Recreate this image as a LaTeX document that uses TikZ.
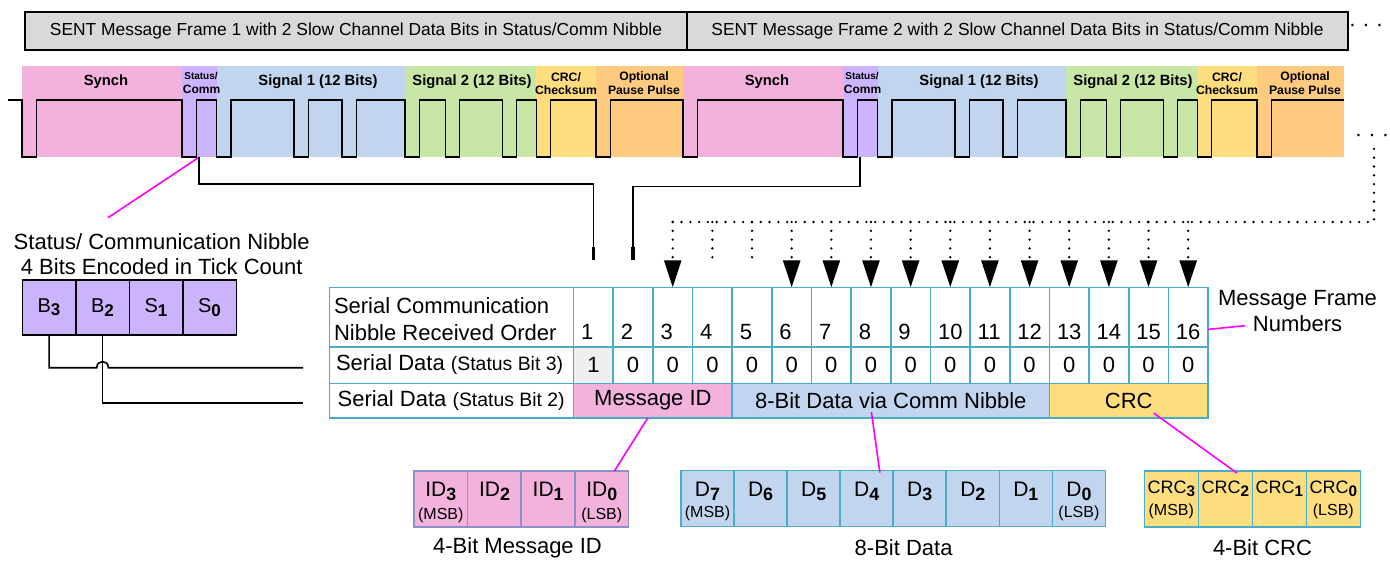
\documentclass[tikz,border=0pt]{standalone}
\usepackage{fontspec}
\setmainfont{Liberation Sans}
\usepackage{graphicx}
\usetikzlibrary{arrows.meta,positioning}

\definecolor{synchpink}{HTML}{F2B2DC}
\definecolor{commpurple}{HTML}{CBB4FB}
\definecolor{sigblue}{HTML}{C2D5EE}
\definecolor{siggreen}{HTML}{C8E6A6}
\definecolor{crcyellow}{HTML}{FEDD7E}
\definecolor{pauseorange}{HTML}{FECA7F}
\definecolor{tabline}{HTML}{4BACC6}
\definecolor{idline}{HTML}{8C8FC8}
\definecolor{hdrgray}{HTML}{D9D9D9}
\definecolor{cellgray}{HTML}{EFEFEF}
\definecolor{callout}{HTML}{FF00FF}

\newcommand\fsz[2]{\fontsize{#1}{#2}\selectfont}
\newcommand\lowbit[1]{\raisebox{-0.35ex}{\scalebox{0.85}{\bfseries #1}}}

\begin{document}
\begin{tikzpicture}[x=0.5pt,y=-0.5pt,
    hdrbox/.style={draw, line width=0.8pt, fill=hdrgray, minimum height=19pt, inner sep=0pt, font=\fsz{8.7}{10}},
    bandtxt/.style={inner sep=0pt, font=\bfseries\fsz{7.4}{8.5}},
    smallband/.style={inner sep=0pt, font=\bfseries\fsz{6.1}{7}},
    wave/.style={line width=0.8pt},
    wire/.style={line width=0.8pt},
    callline/.style={draw=callout, line width=0.8pt},
    dotwire/.style={line width=1.3pt, dash pattern=on 0pt off 4.4pt, line cap=round},
    nibcell/.style={draw, line width=0.8pt, fill=commpurple, outer sep=0pt, inner sep=0pt,
                    minimum width=26.75pt, minimum height=27.35pt, font=\fsz{10}{12}},
    tcell/.style={draw=tabline, line width=0.8pt, outer sep=0pt, inner sep=0pt,
                  minimum width=19.83pt, font=\fsz{11}{13}},
    tabtxt/.style={inner sep=0pt, font=\fsz{11}{13.15}},
    bitcell/.style={draw, line width=0.8pt, outer sep=0pt, inner sep=0pt, minimum height=27.85pt},
    bitmain/.style={inner sep=0pt, font=\fsz{10.5}{12}},
    bitnote/.style={inner sep=0pt, font=\fsz{8}{9}},
    captxt/.style={inner sep=0pt, font=\fsz{11}{13}}]
\useasboundingbox (0,0) rectangle (1390,561);

% frame headers
\node[hdrbox, minimum width=331pt] (hdr1) at (356,31) {SENT Message Frame 1 with 2 Slow Channel Data Bits in Status/Comm Nibble};
\node[hdrbox, minimum width=330.5pt] (hdr2) at (1017.5,31) {SENT Message Frame 2 with 2 Slow Channel Data Bits in Status/Comm Nibble};
\node[font=\fsz{11}{13}, inner sep=0pt] (more1) at (1366,28) {· · ·};

% coloured nibble bands of both frames
\foreach \fr/\n in {22/1,683/2}{
  \foreach \a/\b/\c in {0/160/synchpink,160/194.5/commpurple,194.5/383/sigblue,
                        383/514.3/siggreen,514.3/574/crcyellow,574/661/pauseorange}
    \fill[\c] ({\fr+\a},66) rectangle ({\fr+\b},157.5);
  \node[bandtxt] (synch\n) at ({\fr+84},82) {Synch};
  \node[bandtxt, font=\bfseries\fsz{5}{6}] (stat\n) at ({\fr+179},76) {Status/};
  \node[bandtxt, font=\bfseries\fsz{6}{7}] (comm\n) at ({\fr+179.5},89) {Comm};
  \node[bandtxt] (sigA\n) at ({\fr+296},82) {Signal 1 (12 Bits)};
  \node[bandtxt] (sigB\n) at ({\fr+450},82) {Signal 2 (12 Bits)};
  \node[smallband] (crcA\n) at ({\fr+544},77) {CRC/};
  \node[smallband] (crcB\n) at ({\fr+544},90) {Checksum};
  \node[smallband] (pauseA\n) at ({\fr+622},77) {Optional};
  \node[smallband] (pauseB\n) at ({\fr+622},90) {Pause Pulse};
}

% pulse train
\draw[wave] (8,100)
  foreach \fr in {22,683}{
    foreach \e in {0,160,194.5,272,320,383,423.3,480.3,514.3,574}{
      -- ({\fr+\e},100) -- ++(0,57.3) -- ++(14.3,0) -- ++(0,-57.3)
    }
  } -- (1344,100);
\coordinate (st1) at (199,157.3);
\coordinate (st2) at (860,157.3);

% status / comm nibble
\node[align=center, inner sep=0pt, font=\fsz{11}{12.85}] (sntitle) at (161.7,254) {Status/ Communication Nibble\\4 Bits Encoded in Tick Count};
\coordinate (sntip) at (108,217.7);
\draw[callline] (st1) -- (sntip);
\node[nibcell] (nb3) at (49.05,307.35) {B\lowbit{3}};
\node[nibcell, right=0pt of nb3] (nb2) {B\lowbit{2}};
\node[nibcell, right=0pt of nb2] (ns1) {S\lowbit{1}};
\node[nibcell, right=0pt of ns1] (ns0) {S\lowbit{0}};

% table
\node[tcell, minimum width=122pt, minimum height=29.7pt] (ordlab) at (451.6,317) {};
\node[tabtxt, anchor=west, align=left] at ([xshift=2pt,yshift=-1.1pt]ordlab.west) {Serial Communication\\Nibble Received Order};
\node[tcell, minimum width=122pt, minimum height=18.3pt] (sd3lab) at (451.6,365) {};
\node[tabtxt, anchor=west] at ([xshift=3pt]sd3lab.west) {Serial Data {\fsz{9.7}{11}(Status Bit 3)}};
\node[tcell, minimum width=122pt, minimum height=17.2pt] (sd2lab) at (451.6,400.5) {};
\node[tabtxt, anchor=west] at ([xshift=3.8pt]sd2lab.west) {Serial Data {\fsz{9.7}{11}(Status Bit 2)}};
\foreach \i in {1,...,16}{
  \node[tcell, minimum height=29.7pt] (c\i) at ({573.6+(\i-0.5)*39.65},317) {};
  \node[tabtxt, anchor=base west] at ([xshift=3.6pt,yshift=3.4pt]c\i.south west) {\i};
  \node[tcell, minimum height=18.3pt] (v\i) at ({573.6+(\i-0.5)*39.65},365) {0};
}
\node[tcell, fill=cellgray, minimum height=18.3pt] (v1) at (593.4,365) {1};
\node[tcell, fill=synchpink, minimum width=79.3pt, minimum height=17.2pt] (msgid) at (652.9,400.5) {Message ID};
\node[tcell, fill=sigblue, minimum width=158.6pt, minimum height=17.2pt] (data8) at (890.8,400.5) {8-Bit Data via Comm Nibble};
\node[tcell, fill=crcyellow, minimum width=79.3pt, minimum height=17.2pt] (crcf) at (1128.7,400.5) {CRC};
\node[tabtxt, align=center] (mfnum) at (1297.5,311.2) {Message Frame\\Numbers};
\coordinate (mfnin) at (1245,325.7);
\draw[callline] ([yshift=-6.2pt]c16.east) -- (mfnin);

% status bits into table rows
\coordinate (sd3end) at (303,367.7);
\coordinate (sd2end) at (303,402.7);
\draw[wire] (nb3.south) -- (nb3.south |- sd3end) -- ([xshift=-2.9pt]nb2.south |- sd3end)
  .. controls ([xshift=-2.9pt,yshift=4.1pt]nb2.south |- sd3end) and ([xshift=2.9pt,yshift=4.1pt]nb2.south |- sd3end)
  .. ([xshift=2.9pt]nb2.south |- sd3end) -- (sd3end);
\draw[wire] (nb2.south) |- (sd2end);

% frames 1 and 2 into the table
\coordinate (c1top) at ([yshift=13.5pt]c1.north);
\coordinate (c2top) at ([yshift=13.5pt]c2.north);
\draw[wire] (st1) -- ++(0,27) -| (c1top);
\draw[wire] (st2) -- ++(0,29.4) -| (c2top);
\draw[line width=1.8pt] (c1top) -- ++(0,-13);
\draw[line width=1.8pt] (c2top) -- ++(0,-13);

% later frames
\coordinate (busR) at (1374,222);
\node[font=\fsz{11}{13}, inner sep=0pt] (more2) at (1372,137.7) {· · ·};
\draw[dotwire] (c3.north |- busR) -- (busR) -- ++(0,-75);
\foreach \k in {3,6,7,...,16}
  \draw[dotwire, -{Triangle[width=8.5pt,length=13.5pt]}] (c\k.north |- busR) -- (c\k.north);
\foreach \k in {4,5}
  \draw[dotwire] (c\k.north |- busR) -- ([yshift=14pt]c\k.north);

% message id bits
\node[bitcell, fill=synchpink, draw=idline, minimum width=26.83pt] (id3) at (440.8,498.9) {};
\foreach \t [remember=\t as \p (initially 3)] in {2,1,0}
  \node[bitcell, fill=synchpink, draw=idline, minimum width=26.83pt, right=0pt of id\p] (id\t) {};
\foreach \t in {3,2,1,0}
  \node[bitmain] at ([yshift=3.6pt]id\t.center) {ID\lowbit{\t}};
\node[bitnote] at ([yshift=-8pt]id3.center) {(MSB)};
\node[bitnote] at ([yshift=-8pt]id0.center) {(LSB)};
\node[captxt] (idcap) at (517.5,548.3) {4-Bit Message ID};

% data bits
\node[bitcell, fill=sigblue, draw=tabline, minimum width=26.53pt] (d7) at (707.5,498.5) {};
\foreach \t [remember=\t as \p (initially 7)] in {6,5,4,3,2,1,0}
  \node[bitcell, fill=sigblue, draw=tabline, minimum width=26.53pt, right=0pt of d\p] (d\t) {};
\foreach \t in {7,...,0}
  \node[bitmain] at ([yshift=3.6pt]d\t.center) {D\lowbit{\t}};
\node[bitnote] at ([yshift=-7.5pt]d7.center) {(MSB)};
\node[bitnote] at ([yshift=-7.5pt]d0.center) {(LSB)};
\node[captxt] (dcap) at (903.6,548) {8-Bit Data};

% crc bits
\node[bitcell, fill=crcyellow, draw=tabline, minimum width=27pt] (crc3) at (1171.3,498.9) {};
\foreach \t [remember=\t as \p (initially 3)] in {2,1,0}
  \node[bitcell, fill=crcyellow, draw=tabline, minimum width=27pt, right=0pt of crc\p] (crc\t) {};
\foreach \t in {3,2,1,0}
  \node[bitmain, font=\fsz{9}{11}] at ([yshift=5pt]crc\t.center) {CRC\lowbit{\t}};
\node[bitnote] at ([yshift=-6.4pt]crc3.center) {(MSB)};
\node[bitnote] at ([yshift=-6.4pt]crc0.center) {(LSB)};
\node[captxt] (crccap) at (1262.5,548) {4-Bit CRC};

% callouts to the bit fields
\draw[callline] ([xshift=-2.5pt]msgid.south) -- ([xshift=6.3pt]id0.north);
\draw[callline] ([xshift=-9.7pt,yshift=2.8pt]data8.south) -- ([xshift=6.6pt,yshift=-1pt]d4.north);
\draw[callline] ([xshift=12.5pt,yshift=2.3pt]crcf.south) -- ([xshift=5.8pt,yshift=-1pt]crc2.north);
\end{tikzpicture}
\end{document}
